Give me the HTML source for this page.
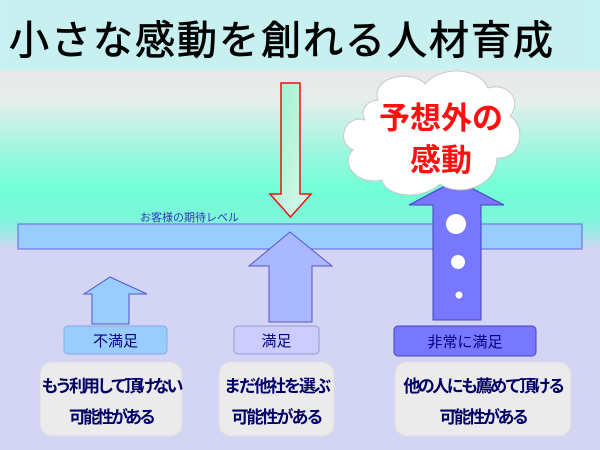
<!DOCTYPE html>
<html><head><meta charset="utf-8"><style>
body{margin:0;width:600px;height:450px;overflow:hidden;font-family:"Liberation Sans","Noto Sans CJK JP",sans-serif;}
.bg{position:absolute;left:0;top:0;width:600px;height:450px;background:linear-gradient(to bottom,#c8f2f2 0,#c8f2f2 68px,#e8e8e8 72px,#e6eeec 100px,#9ff7df 150px,#70ffd6 190px,#80f4dc 222px,#d4d4f4 250px,#d4d4f4 450px);}
.t{position:absolute;white-space:nowrap;}
</style></head><body>
<div class="bg"></div>
<div style="position:absolute;left:4px;top:0;width:578px;height:68px;background:#c8f0f0;"></div>
<div class="t" style="left:9px;top:8px;font-size:40px;color:#000;letter-spacing:2px;-webkit-text-stroke:0.8px #000;">小さな感動を創れる人材育成</div>
<svg width="600" height="450" style="position:absolute;left:0;top:0">
<defs><linearGradient id="g1" x1="0" y1="0" x2="1" y2="1"><stop offset="0" stop-color="#a0f0d0"/><stop offset="1" stop-color="#d8f8ec"/></linearGradient></defs>
<polygon points="281,83 300,83 300,194 311,194 290.5,217 270,194 281,194" fill="url(#g1)" stroke="#ee1111" stroke-width="1.5"/>
<rect x="18" y="224" width="564" height="25" fill="#99ccff" stroke="#6666dd" stroke-width="1"/>
<polygon points="290,232 332,266 312,266 312,322 269,322 269,266 249,266" fill="#aab8ff" stroke="#5555cc"/>
<polygon points="110,277 147,294 129,294 129,324 92,324 92,294 84,294" fill="#99ccff" stroke="#5555cc"/>
<polygon points="456,180 504,205 481,205 481,320 433,320 433,205 409,205" fill="#7777ff" stroke="#4444bb"/>
<circle cx="456" cy="224" r="10" fill="#fff"/><circle cx="458" cy="262" r="7" fill="#fff"/><circle cx="459" cy="295" r="3.5" fill="#fff"/>
<g fill="#fff" stroke="#c8c8c8" stroke-width="1">
<path d="M378,100 C370,78 410,68 425,84 C440,66 478,66 488,88 C510,82 522,102 510,116 C528,128 520,160 497,158 C497,186 460,198 440,184 C420,202 385,196 382,180 C355,186 340,162 353,150 C335,142 345,114 365,120 C360,110 366,101 378,100 Z"/>
</g>
<rect x="64" y="326" width="103" height="28" rx="4" fill="#99ccff" stroke="#88aadd"/>
<rect x="234" y="326" width="85" height="28" rx="4" fill="#ccccff" stroke="#9999cc"/>
<rect x="394" y="326" width="142" height="30" rx="4" fill="#7777ff" stroke="#4444bb"/>
<rect x="40" y="362" width="142" height="74" rx="12" fill="#ebebeb" stroke="#dddddd"/>
<rect x="219" y="362" width="115" height="74" rx="12" fill="#ebebeb" stroke="#dddddd"/>
<rect x="395" y="362" width="176" height="74" rx="12" fill="#ebebeb" stroke="#dddddd"/>
</svg>
<div class="t" style="left:379px;top:93px;font-size:31px;font-weight:bold;color:#ff1010;">予想外の</div>
<div class="t" style="left:410px;top:135px;font-size:31px;font-weight:bold;color:#ff1010;">感動</div>
<div class="t" style="left:140px;top:209px;font-size:11px;color:#3333bb;">お客様の期待レベル</div>
<div class="t" style="left:64px;width:103px;top:330px;text-align:center;font-size:15px;color:#000080;">不満足</div>
<div class="t" style="left:234px;width:85px;top:330px;text-align:center;font-size:15px;color:#000080;">満足</div>
<div class="t" style="left:394px;width:142px;top:331px;text-align:center;font-size:15px;color:#000080;">非常に満足</div>
<div class="t" style="left:40px;width:142px;top:371px;text-align:center;font-size:17px;font-weight:bold;color:#000066;line-height:31px;letter-spacing:-3px;">もう利用して頂けない<br>可能性がある</div>
<div class="t" style="left:219px;width:115px;top:371px;text-align:center;font-size:17px;font-weight:bold;color:#000066;line-height:31px;letter-spacing:-2px;">まだ他社を選ぶ<br>可能性がある</div>
<div class="t" style="left:395px;width:176px;top:371px;text-align:center;font-size:17px;font-weight:bold;color:#000066;line-height:31px;letter-spacing:-2.5px;">他の人にも薦めて頂ける<br>可能性がある</div>
</body></html>
